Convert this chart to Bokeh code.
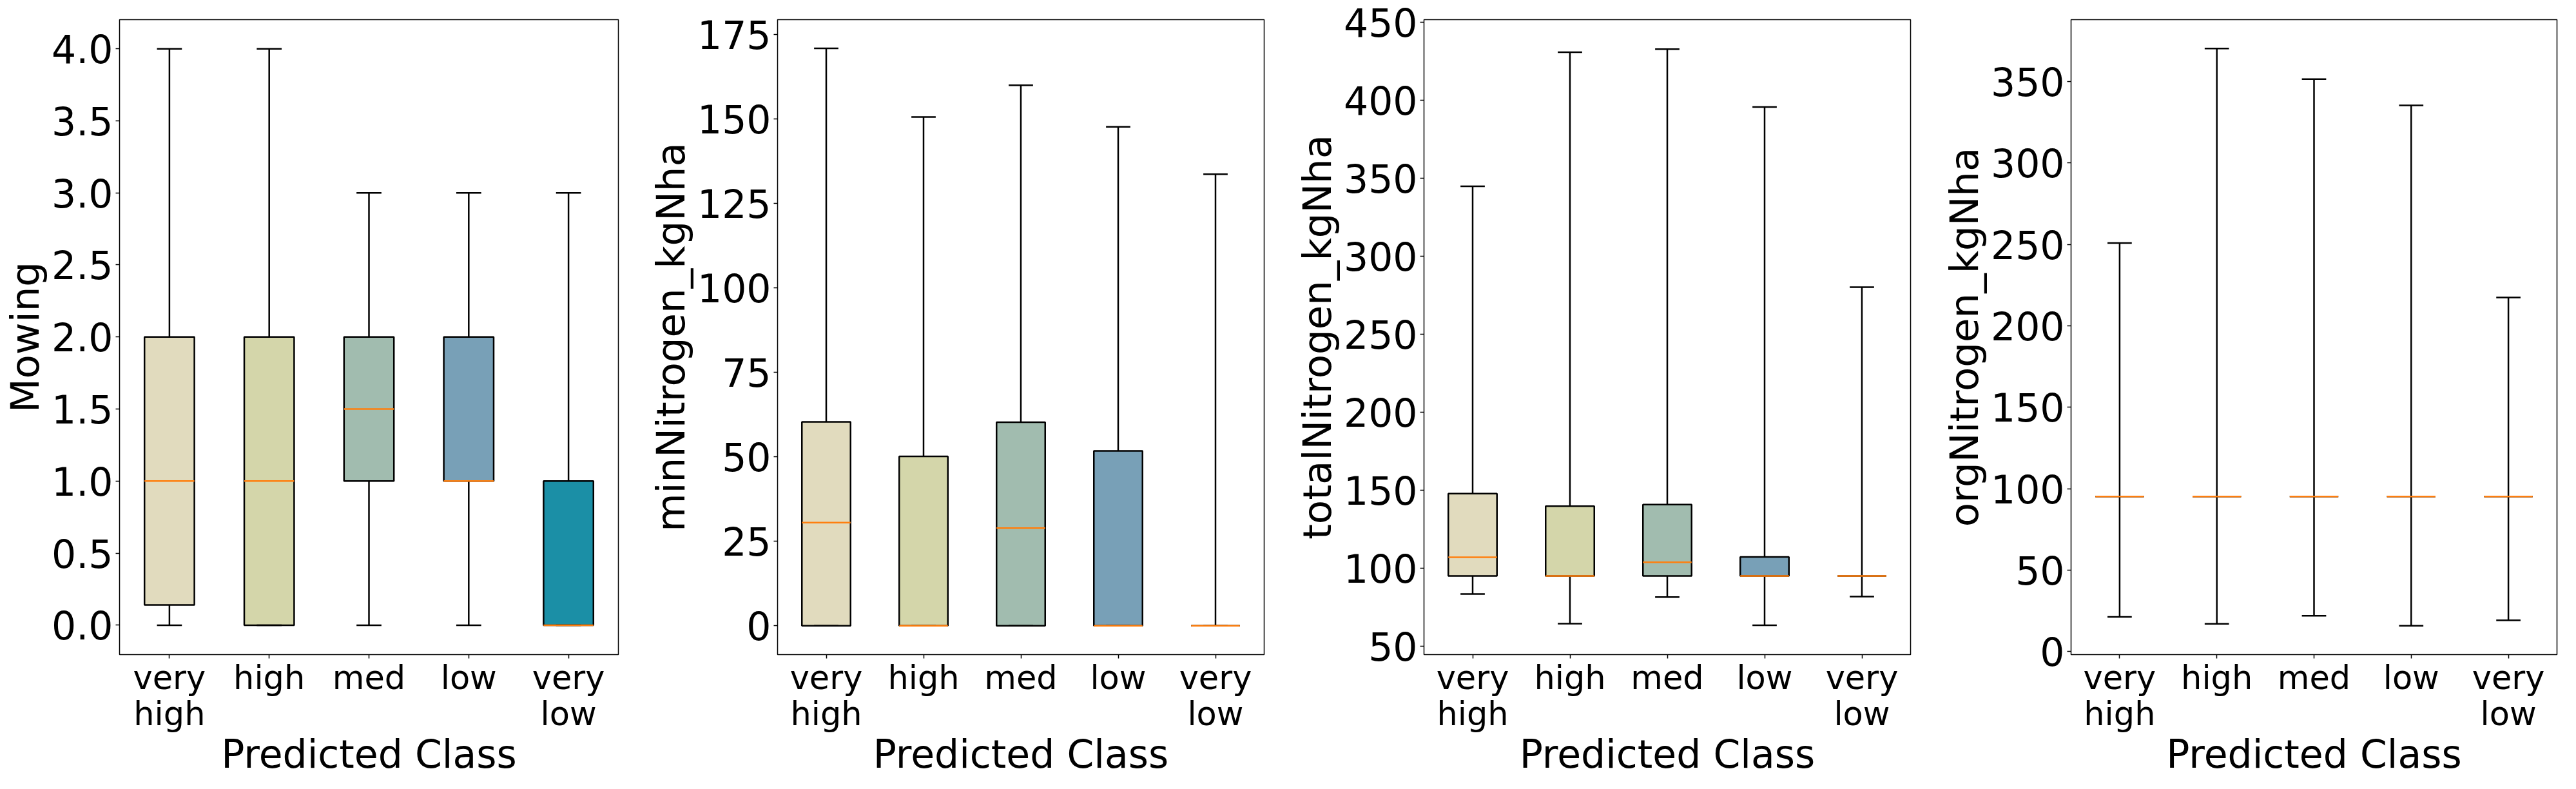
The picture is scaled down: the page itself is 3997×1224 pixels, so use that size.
from bokeh.plotting import figure
from bokeh.layouts import row
from bokeh.models import Range1d, FixedTicker, PrintfTickFormatter, ColumnDataSource
from bokeh.transform import dodge
from bokeh.embed import file_html
from bokeh.resources import INLINE

# ---------------- data ----------------
categories = ["very high", "high", "med", "low", "very low"]
positions = [1, 2, 3, 4, 5]
tick_labels = ["very\nhigh", "high", "med", "low", "very\nlow"]
box_colors = ["#E1DBBE", "#D4D6AA", "#A1BCAF", "#78A0B7", "#1B8FA6"]
x_label = "Predicted Class"

mowing_lo = [0, 0, 0, 0, 0]
mowing_q1 = [0.14, 0, 1, 1, 0]
mowing_med = [1, 1, 1.5, 1, 0]
mowing_q3 = [2, 2, 2, 2, 1]
mowing_hi = [4, 4, 3, 3, 3]
mowing_ticks = [0.0, 0.5, 1.0, 1.5, 2.0, 2.5, 3.0, 3.5, 4.0]

minN_lo = [0, 0, 0, 0, 0]
minN_q1 = [0, 0, 0, 0, 0]
minN_med = [30.5, 0, 28.9, 0, 0]
minN_q3 = [60.3, 50.1, 60.2, 51.7, 0]
minN_hi = [170.8, 150.5, 159.9, 147.6, 133.6]
minN_ticks = [0, 25, 50, 75, 100, 125, 150, 175]

totN_lo = [83.6, 64.6, 81.7, 63.6, 82.0]
totN_q1 = [95.2, 95.2, 95.2, 95.2, 95.2]
totN_med = [107.1, 95.2, 103.9, 95.2, 95.2]
totN_q3 = [147.9, 139.9, 140.9, 107.4, 95.2]
totN_hi = [344.8, 430.7, 432.6, 395.6, 280.1]
totN_ticks = [50, 100, 150, 200, 250, 300, 350, 400, 450]

orgN_lo = [21.3, 17.0, 21.9, 15.8, 19.2]
orgN_q1 = [95.2, 95.2, 95.2, 95.2, 95.2]
orgN_med = [95.2, 95.2, 95.2, 95.2, 95.2]
orgN_q3 = [95.2, 95.2, 95.2, 95.2, 95.2]
orgN_hi = [250.8, 370.3, 351.5, 335.4, 217.4]
orgN_ticks = [0, 50, 100, 150, 200, 250, 300, 350]

FONT = "DejaVu Sans"

panels = [
    dict(ylabel="Mowing", lo=mowing_lo, q1=mowing_q1, med=mowing_med, q3=mowing_q3, hi=mowing_hi,
         ticks=mowing_ticks, fmt="%.1f", yr=(-0.204, 4.202),
         width=975, left=182, right=16, top=12),
    dict(ylabel="minNitrogen_kgNha", lo=minN_lo, q1=minN_q1, med=minN_med, q3=minN_q3, hi=minN_hi,
         ticks=minN_ticks, fmt="%d", yr=(-8.54, 179.3),
         width=1000, left=231, right=14, top=16),
    dict(ylabel="totalNitrogen_kgNha", lo=totN_lo, q1=totN_q1, med=totN_med, q3=totN_q3, hi=totN_hi,
         ticks=totN_ticks, fmt="%d", yr=(44.8, 451.5),
         width=1003, left=234, right=14, top=30),
    dict(ylabel="orgNitrogen_kgNha", lo=orgN_lo, q1=orgN_q1, med=orgN_med, q3=orgN_q3, hi=orgN_hi,
         ticks=orgN_ticks, fmt="%d", yr=(-1.9, 388.0),
         width=1003, left=235, right=14, top=12),
]

H = 1208
BOTTOM = 193

figs = []
for cfg in panels:
    p = figure(x_range=Range1d(0.5, 5.5), y_range=Range1d(*cfg["yr"]),
               width=cfg["width"], height=H, output_backend="svg", toolbar_location=None,
               min_border_left=cfg["left"], min_border_right=cfg["right"],
               min_border_top=cfg["top"], min_border_bottom=BOTTOM)
    src = ColumnDataSource(dict(pos=positions, cat=categories, lo=cfg["lo"], q1=cfg["q1"],
                                med=cfg["med"], q3=cfg["q3"], hi=cfg["hi"], color=box_colors))
    # boxes
    p.vbar(x="pos", bottom="q1", top="q3", width=0.5, fill_color="color",
           line_color="black", line_width=2.5, source=src)
    # whiskers
    p.segment(x0="pos", y0="q3", x1="pos", y1="hi", line_color="black", line_width=2.5, source=src)
    p.segment(x0="pos", y0="lo", x1="pos", y1="q1", line_color="black", line_width=2.5, source=src)
    # caps
    for col in ("hi", "lo"):
        p.segment(x0=dodge("pos", -0.125), y0=col, x1=dodge("pos", 0.125), y1=col,
                  line_color="black", line_width=2.5, source=src)
    # medians
    p.segment(x0=dodge("pos", -0.25), y0="med", x1=dodge("pos", 0.25), y1="med",
              line_color="#FF7F0E", line_width=2.5, source=src)

    p.xgrid.visible = False
    p.ygrid.visible = False
    p.outline_line_color = "black"
    p.outline_line_width = 1.5
    p.outline_line_alpha = 1.0

    p.yaxis.ticker = FixedTicker(ticks=cfg["ticks"])
    p.yaxis.formatter = PrintfTickFormatter(format=cfg["fmt"])
    p.xaxis.ticker = FixedTicker(ticks=positions)
    p.xaxis.major_label_overrides = {pos: lab for pos, lab in zip(positions, tick_labels)}

    for ax in (p.xaxis, p.yaxis):
        ax.axis_line_color = None
        ax.major_tick_out = 6
        ax.major_tick_in = 0
        ax.minor_tick_out = 0
        ax.minor_tick_in = 0
        ax.major_tick_line_color = "black"
        ax.major_tick_line_width = 1.5
        ax.major_label_text_font = FONT
        ax.major_label_text_color = "black"
        ax.axis_label_text_font = FONT
        ax.axis_label_text_font_style = "normal"
        ax.axis_label_text_color = "black"

    p.yaxis.axis_label = cfg["ylabel"]
    p.yaxis.major_label_text_font_size = "60px"
    p.yaxis.axis_label_text_font_size = "61px"
    p.yaxis.major_label_standoff = 4
    p.yaxis.axis_label_standoff = 3

    p.xaxis.axis_label = x_label
    p.xaxis.major_label_text_font_size = "51px"
    p.xaxis.major_label_text_line_height = 0.95
    p.xaxis.axis_label_text_font_size = "60px"
    p.xaxis.major_label_standoff = 0
    p.xaxis.axis_label_standoff = -5
    p.xaxis.major_label_orientation = "horizontal"

    figs.append(p)

layout = row(*figs, spacing=0)
open("out.html", "w").write(file_html(layout, INLINE))
